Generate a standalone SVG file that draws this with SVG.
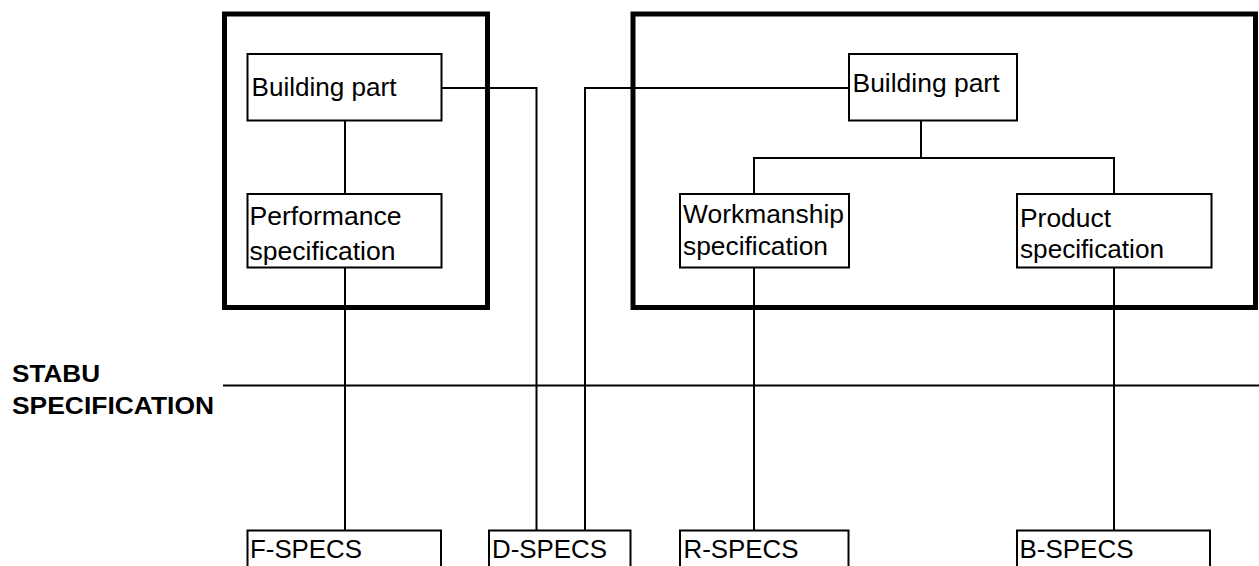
<svg xmlns="http://www.w3.org/2000/svg" width="1259" height="566" viewBox="0 0 1259 566">
<style>
.frame{fill:none;stroke:#000;stroke-width:5}
.box{fill:#fff;stroke:#000;stroke-width:2}
.conn{fill:none;stroke:#000;stroke-width:2}
.t{font-family:"Liberation Sans",Arial,sans-serif;font-size:26px;fill:#000}
.s{font-family:"Liberation Sans",Arial,sans-serif;font-size:25px;fill:#000}
.b{font-family:"Liberation Sans",Arial,sans-serif;font-size:24px;font-weight:bold;fill:#000}
</style>
<rect width="1259" height="566" fill="#fff"/>
<g id="frames">
<rect id="frame-left" class="frame" x="224.5" y="14" width="263" height="293.5"/>
<rect id="frame-right" class="frame" x="633" y="14" width="622.5" height="293.5"/>
</g>
<g id="connectors">
<path class="conn" d="M345,121 V194"/>
<path class="conn" d="M345,267.5 V530.5"/>
<path class="conn" d="M442,88 H536.5 V530.5"/>
<path class="conn" d="M849,88 H585 V530.5"/>
<path class="conn" d="M921,120.5 V158"/>
<path class="conn" d="M754,194 V158 H1114 V194"/>
<path class="conn" d="M754,267.5 V530.5"/>
<path class="conn" d="M1114,267.5 V530.5"/>
<path class="conn" d="M223,385.5 H1259" stroke-width="3"/>
</g>
<g id="label-stabu">
<text class="b" x="12" y="381.7" textLength="88" lengthAdjust="spacingAndGlyphs">STABU</text>
<text class="b" x="12" y="414" textLength="202" lengthAdjust="spacingAndGlyphs">SPECIFICATION</text>
</g>
<g id="building-part-left">
<rect class="box" x="247.5" y="54" width="194" height="66.5"/>
<text class="t" x="251.5" y="96" textLength="145" lengthAdjust="spacingAndGlyphs">Building part</text>
</g>
<g id="performance-spec">
<rect class="box" x="247.5" y="194" width="194" height="73.5"/>
<text class="t" x="249.5" y="225" textLength="152" lengthAdjust="spacingAndGlyphs">Performance</text>
<text class="t" x="249.5" y="260" textLength="146" lengthAdjust="spacingAndGlyphs">specification</text>
</g>
<g id="building-part-right">
<rect class="box" x="849" y="54" width="168" height="66.5"/>
<text class="t" x="852.5" y="92" textLength="147" lengthAdjust="spacingAndGlyphs">Building part</text>
</g>
<g id="workmanship-spec">
<rect class="box" x="680" y="194" width="169" height="73.5"/>
<text class="t" x="683" y="223" textLength="161" lengthAdjust="spacingAndGlyphs">Workmanship</text>
<text class="t" x="683" y="254.5" textLength="145" lengthAdjust="spacingAndGlyphs">specification</text>
</g>
<g id="product-spec">
<rect class="box" x="1017" y="194" width="194.5" height="73.5"/>
<text class="t" x="1020" y="227" textLength="91" lengthAdjust="spacingAndGlyphs">Product</text>
<text class="t" x="1020" y="257.5" textLength="144" lengthAdjust="spacingAndGlyphs">specification</text>
</g>
<g id="f-specs">
<rect class="box" x="247.5" y="530.5" width="193.5" height="60"/>
<text class="s" x="250" y="558" textLength="112" lengthAdjust="spacingAndGlyphs">F-SPECS</text>
</g>
<g id="d-specs">
<rect class="box" x="489" y="530.5" width="141.5" height="60"/>
<text class="s" x="492" y="558" textLength="115" lengthAdjust="spacingAndGlyphs">D-SPECS</text>
</g>
<g id="r-specs">
<rect class="box" x="680" y="530.5" width="168.5" height="60"/>
<text class="s" x="683.5" y="558" textLength="115" lengthAdjust="spacingAndGlyphs">R-SPECS</text>
</g>
<g id="b-specs">
<rect class="box" x="1017" y="530.5" width="193" height="60"/>
<text class="s" x="1019.5" y="558" textLength="114" lengthAdjust="spacingAndGlyphs">B-SPECS</text>
</g>
</svg>
